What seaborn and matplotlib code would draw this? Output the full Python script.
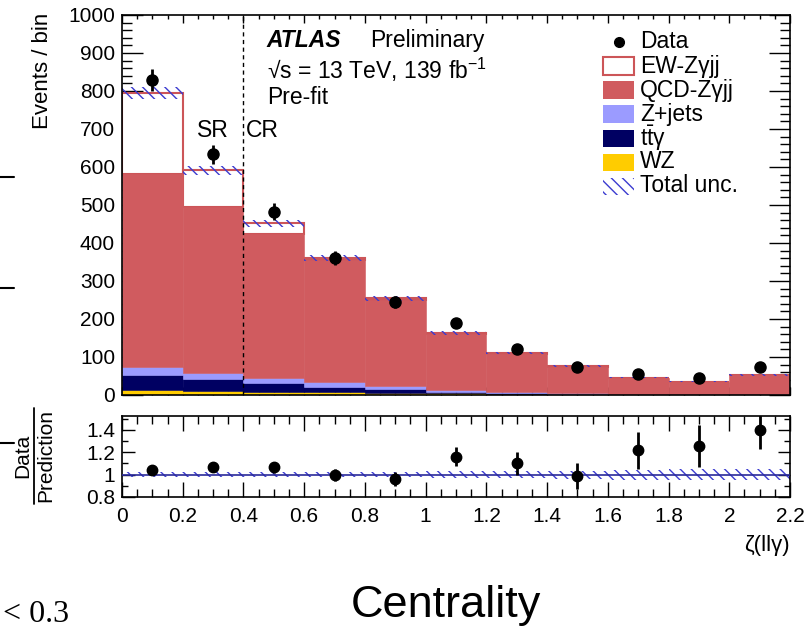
import numpy as np
import pandas as pd
import matplotlib
matplotlib.use("Agg")
import matplotlib.pyplot as plt
import seaborn as sns
from matplotlib.patches import Rectangle
from matplotlib.lines import Line2D
from matplotlib.ticker import MultipleLocator, FixedLocator, FixedFormatter

# ---------------- data ----------------
bin_edges = [0.0, 0.2, 0.4, 0.6, 0.8, 1.0, 1.2, 1.4, 1.6, 1.8, 2.0, 2.2]
processes = ["EW-Zγjj", "QCD-Zγjj", "Z+jets", r"$\mathrm{t\bar{t}\gamma}$", "WZ"]
ew_zgjj = [214, 97, 29, 5, 3, 3, 2, 1, 1, 1, 1]
qcd_zgjj = [506, 436, 378, 322, 228, 148, 101, 71, 42, 31, 49]
z_jets = [23, 18, 14, 12, 8, 4, 2, 1, 1, 1, 1]
ttgamma = [40, 31, 23, 14, 9, 3, 2, 1, 0.5, 0.5, 0.5]
wz = [12, 10, 8, 7, 6, 5, 3, 2, 1.5, 1.5, 1.5]
data_counts = [828, 633, 482, 360, 244, 189, 121, 75, 56, 44, 74]
rel_unc = [0.02, 0.02, 0.02, 0.022, 0.025, 0.03, 0.03, 0.035, 0.045, 0.05, 0.05]
ratio_xticklabels = ["0", "0.2", "0.4", "0.6", "0.8", "1", "1.2", "1.4", "1.6", "1.8", "2", "2.2"]
ratio_yticks = [0.8, 1.0, 1.2, 1.4]
ratio_yticklabels = ["0.8", "1", "1.2", "1.4"]

colors = {
    processes[0]: "#ffffff",
    processes[1]: "#d05b5f",
    processes[2]: "#9b9bff",
    processes[3]: "#000062",
    processes[4]: "#ffcc00",
}
ew_edge = "#cc5558"
unc_blue = "#3b3bd0"

# ---------------- style ----------------
sns.set_theme(style="ticks")
plt.rcParams["font.family"] = ["Liberation Sans", "DejaVu Sans"]
plt.rcParams["mathtext.fontset"] = "custom"
plt.rcParams["mathtext.rm"] = "Liberation Sans"
plt.rcParams["mathtext.it"] = "Liberation Sans:italic"
plt.rcParams["mathtext.bf"] = "Liberation Sans:bold"
plt.rcParams["hatch.linewidth"] = 1.0
plt.rcParams["hatch.color"] = unc_blue
plt.rcParams["axes.linewidth"] = 1.2
plt.rcParams["text.color"] = "black"
plt.rcParams["axes.labelcolor"] = "black"
plt.rcParams["xtick.color"] = "black"
plt.rcParams["ytick.color"] = "black"
plt.rcParams["xtick.labelcolor"] = "black"
plt.rcParams["ytick.labelcolor"] = "black"

edges = np.array(bin_edges)
centers = 0.5 * (edges[:-1] + edges[1:])
series = [ew_zgjj, qcd_zgjj, z_jets, ttgamma, wz]
df = pd.DataFrame({
    "x": np.concatenate([centers for _ in processes]),
    "w": np.concatenate([np.array(s, float) for s in series]),
    "proc": np.repeat(processes, len(centers)),
})
total = np.sum([np.array(s, float) for s in series], axis=0)
data = np.array(data_counts, float)
unc = np.array(rel_unc)

W, H = 810, 629
fig = plt.figure(figsize=(W / 100, H / 100), dpi=100)
ax = fig.add_axes([122 / W, 1 - 395 / H, 668 / W, 380 / H])
rax = fig.add_axes([122 / W, 1 - 497 / H, 668 / W, 81 / H])

# ---------------- main panel ----------------
sns.histplot(data=df, x="x", weights="w", hue="proc", hue_order=processes,
             multiple="stack", bins=bin_edges, palette=colors, alpha=1,
             linewidth=0, legend=False, ax=ax, element="bars", shrink=1)
for p in ax.patches:
    fc = p.get_facecolor()
    if np.allclose(fc[:3], (1, 1, 1)):
        p.set_edgecolor(ew_edge)
        p.set_linewidth(1.5)
        p.set_zorder(1)
    else:
        p.set_edgecolor(fc)
        p.set_linewidth(0.4)
        p.set_zorder(2)

ax.stairs(total * (1 + unc), bin_edges, baseline=total * (1 - unc), fill=True,
          facecolor="none", edgecolor=unc_blue, hatch="\\\\\\", linewidth=0, zorder=3)
ax.errorbar(centers, data, yerr=np.sqrt(data), fmt="o", color="black", ms=8,
            elinewidth=2, capsize=0, zorder=5)
ax.axvline(0.4, color="black", lw=1.0, ls=(0, (3, 2.5)), zorder=4)

ax.set_xlim(0, 2.2)
ax.set_ylim(0, 1000)
ax.set_xlabel("")
ax.set_ylabel("")
ax.xaxis.set_major_locator(MultipleLocator(0.2))
ax.xaxis.set_minor_locator(MultipleLocator(0.05))
ax.yaxis.set_major_locator(MultipleLocator(100))
ax.yaxis.set_minor_locator(MultipleLocator(20))
ax.tick_params(which="both", direction="in", top=True, right=True, width=1, colors="black")
ax.tick_params(axis="y", which="major", length=15, labelsize=15, pad=5)
ax.tick_params(axis="y", which="minor", length=7.5)
ax.tick_params(axis="x", which="major", length=6, labelbottom=False)
ax.tick_params(axis="x", which="minor", length=3)
for s in ax.spines.values():
    s.set_color("black")
    s.set_zorder(6)

fs = 16.5
ax.text(0.217, 0.934, "ATLAS", transform=ax.transAxes, fontsize=fs, fontweight="bold",
        style="italic", va="center", ha="left")
ax.text(0.371, 0.934, "Preliminary", transform=ax.transAxes, fontsize=fs, va="center", ha="left")
ax.text(0.217, 0.855, "√s = 13 TeV, 139 fb$^{-1}$", transform=ax.transAxes, fontsize=fs,
        va="center", ha="left")
ax.text(0.217, 0.782, "Pre-fit", transform=ax.transAxes, fontsize=fs, va="center", ha="left")
ax.text(0.30, 697, "SR", fontsize=fs, ha="center", va="center")
ax.text(0.462, 697, "CR", fontsize=fs, ha="center", va="center")

# legend (manual, ROOT style)
leg_labels = ["Data"] + processes + ["Total unc."]
leg_y_px = [42, 66, 90, 114, 138, 162, 186]
bx0, bx1 = (603 - 122) / 668, (634 - 122) / 668
bh = 17 / 380
tx = (640 - 122) / 668
for lab, ypx in zip(leg_labels, leg_y_px):
    yc = (395 - ypx) / 380
    if lab == "Data":
        ax.plot([(bx0 + bx1) / 2], [yc], "o", color="black", ms=7,
                transform=ax.transAxes, clip_on=False)
    elif lab == "Total unc.":
        ax.add_patch(Rectangle((bx0, yc - bh / 2), bx1 - bx0, bh, transform=ax.transAxes,
                               facecolor="none", edgecolor=unc_blue, hatch="\\\\\\", lw=0))
    elif lab == processes[0]:
        ax.add_patch(Rectangle((bx0, yc - bh / 2), bx1 - bx0, bh, transform=ax.transAxes,
                               facecolor="white", edgecolor=ew_edge, lw=1.5))
    else:
        ax.add_patch(Rectangle((bx0, yc - bh / 2), bx1 - bx0, bh, transform=ax.transAxes,
                               facecolor=colors[lab], edgecolor="none", lw=0))
    ax.text(tx, yc, lab, transform=ax.transAxes, fontsize=fs, va="center", ha="left")

# ---------------- ratio panel ----------------
ratio = data / total
rerr = np.sqrt(data) / total
rax.stairs(1 + unc, bin_edges, baseline=1 - unc, fill=True, facecolor="none",
           edgecolor=unc_blue, hatch="\\\\\\", linewidth=0, zorder=2)
rax.axhline(1.0, color="#2a2a9a", lw=1.2, zorder=3)
rax.errorbar(centers, ratio, yerr=rerr, fmt="o", color="black", ms=7.5,
             elinewidth=2, capsize=0, zorder=5, clip_on=True)
rax.set_xlim(0, 2.2)
rax.set_ylim(0.8, 1.525)
rax.xaxis.set_major_locator(FixedLocator(list(edges)))
rax.xaxis.set_major_formatter(FixedFormatter(ratio_xticklabels))
rax.xaxis.set_minor_locator(MultipleLocator(0.05))
rax.yaxis.set_major_locator(FixedLocator(ratio_yticks))
rax.yaxis.set_major_formatter(FixedFormatter(ratio_yticklabels))
rax.yaxis.set_minor_locator(MultipleLocator(0.1))
rax.tick_params(which="both", direction="in", top=True, right=True, width=1, colors="black")
rax.tick_params(axis="x", which="major", length=11, labelsize=15, pad=7)
rax.tick_params(axis="x", which="minor", length=5.5)
rax.tick_params(axis="y", which="major", length=9, labelsize=15, pad=5)
rax.tick_params(axis="y", which="minor", length=4.5)
for s in rax.spines.values():
    s.set_color("black")

# ---------------- figure texts ----------------
fig.text(42 / W, 1 - 13 / H, "Events / bin", rotation=90, ha="center", va="top", fontsize=16)
fig.text(23 / W, 1 - 456 / H, "Data", rotation=90, ha="center", va="center", fontsize=15)
fig.text(46 / W, 1 - 456 / H, "Prediction", rotation=90, ha="center", va="center", fontsize=15)
fig.add_artist(Line2D([34 / W, 34 / W], [1 - 408 / H, 1 - 504 / H], color="black", lw=1.3))
fig.text(790 / W, 1 - 545 / H, "ζ(llγ)", ha="right", va="center", fontsize=16)
fig.text(446 / W, 1 - 617 / H, "Centrality", ha="center", va="baseline", fontsize=32.5)
fig.text(3 / W, 1 - 600 / H, "< 0.3", ha="left", va="top", fontsize=23,
         family=["Liberation Serif", "DejaVu Serif"])
for ypx in (177, 288, 443):
    fig.add_artist(Line2D([0, 14 / W], [1 - ypx / H] * 2, color="black", lw=1.5))

fig.savefig("out.png", dpi=100)
